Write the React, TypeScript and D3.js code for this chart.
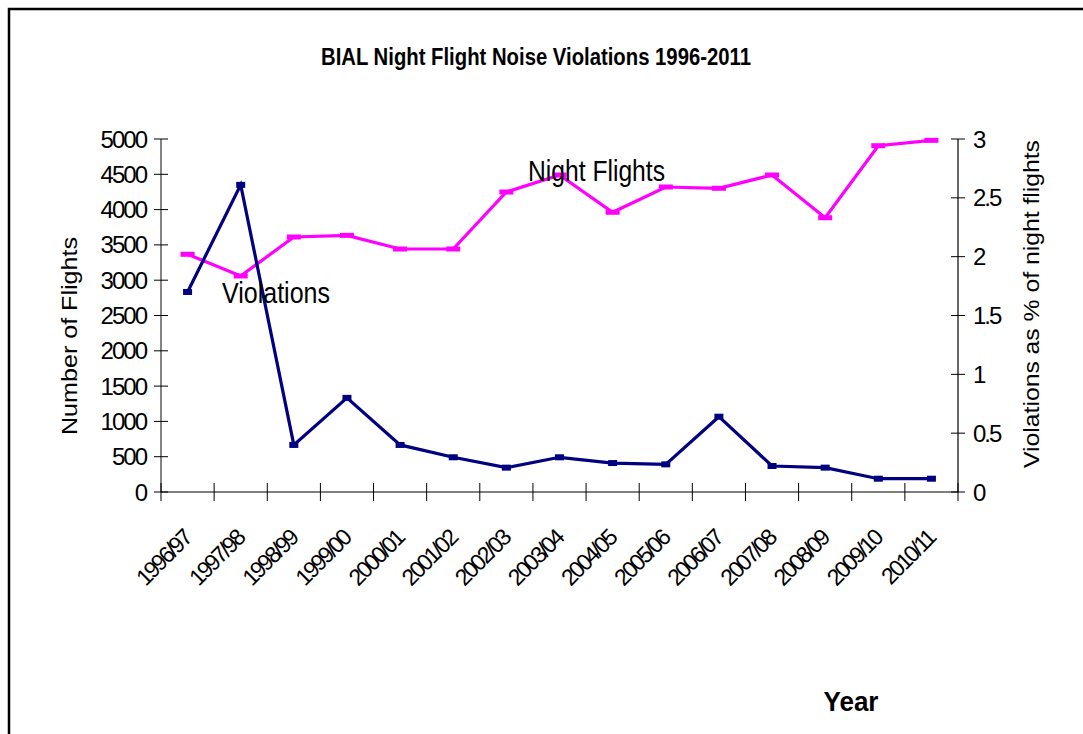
import React from "react";
import * as d3 from "d3";

// Financial years on the x axis
const years = [
  "1996/97", "1997/98", "1998/99", "1999/00", "2000/01", "2001/02", "2002/03", "2003/04",
  "2004/05", "2005/06", "2006/07", "2007/08", "2008/09", "2009/10", "2010/11",
];

// Number of night flights (left axis)
const nightFlights = [
  3367, 3060, 3612, 3635, 3442, 3442, 4249, 4490, 3962, 4320, 4302, 4490, 3885, 4905, 4981,
];

// Violations as % of night flights (right axis)
const violationsPct = [
  1.7, 2.61, 0.4, 0.8, 0.4, 0.295, 0.207, 0.295, 0.246, 0.235, 0.64, 0.221, 0.207, 0.113, 0.113,
];

const leftTicks = [0, 500, 1000, 1500, 2000, 2500, 3000, 3500, 4000, 4500, 5000];
const rightTicks = [0, 0.5, 1, 1.5, 2, 2.5, 3];

const FONT = "'Liberation Sans', Arial, sans-serif";

export default function App() {
  const x0 = 161;
  const x1 = 958;
  const yBottom = 492;
  const yTop = 139;

  const x = d3.scaleBand<string>().domain(years).range([x0, x1]).padding(0);
  const cx = (d: string) => (x(d) as number) + x.bandwidth() / 2;
  const yL = d3.scaleLinear().domain([0, 5000]).range([yBottom, yTop]);
  const yR = d3.scaleLinear().domain([0, 3]).range([yBottom, yTop]);

  const flightLine = d3
    .line<number>()
    .x((_, i) => cx(years[i]))
    .y((d) => yL(d));
  const violLine = d3
    .line<number>()
    .x((_, i) => cx(years[i]))
    .y((d) => yR(d));

  const tickEdges = years.map((d) => x(d) as number).concat([x1]);

  return (
    <svg
      width={1083}
      height={734}
      style={{ position: "absolute", left: 0, top: 0, background: "#fff" }}
      fontFamily={FONT}
    >
      {/* outer frame */}
      <rect x={9} y={9} width={1300} height={1000} fill="none" stroke="#000" strokeWidth={2.5} />

      {/* title */}
      <text x={536} y={65} textAnchor="middle" fontSize={23} fontWeight="bold" textLength={430} lengthAdjust="spacingAndGlyphs">
        BIAL Night Flight Noise Violations 1996-2011
      </text>

      {/* left axis */}
      <line x1={x0} x2={x0} y1={yTop} y2={yBottom} stroke="#333" strokeWidth={1.2} />
      {leftTicks.map((t) => (
        <g key={"l" + t}>
          <line x1={x0 - 7} x2={x0 + 7} y1={yL(t)} y2={yL(t)} stroke="#000" strokeWidth={1} />
          <text x={146} y={yL(t) + 8.5} textAnchor="end" fontSize={24} letterSpacing={-2}>
            {t}
          </text>
        </g>
      ))}

      {/* right axis */}
      <line x1={x1} x2={x1} y1={yTop} y2={yBottom} stroke="#000" strokeWidth={1.2} />
      {rightTicks.map((t) => (
        <g key={"r" + t}>
          <line x1={x1 - 7} x2={x1 + 7} y1={yR(t)} y2={yR(t)} stroke="#000" strokeWidth={1} />
          <text x={973} y={yR(t) + 8.5} textAnchor="start" fontSize={24} letterSpacing={-2}>
            {t}
          </text>
        </g>
      ))}

      {/* x axis */}
      <line x1={x0} x2={x1} y1={yBottom} y2={yBottom} stroke="#000" strokeWidth={1.2} />
      {tickEdges.map((tx, i) => (
        <line key={"xt" + i} x1={tx} x2={tx} y1={yBottom - 9} y2={yBottom + 9} stroke="#000" strokeWidth={1} />
      ))}
      {years.map((d) => (
        <text
          key={"xl" + d}
          transform={`translate(${cx(d) + 5},${540}) rotate(-45)`}
          textAnchor="end"
          fontSize={23}
          letterSpacing={-2.4}
        >
          {d}
        </text>
      ))}

      {/* axis titles */}
      <text transform="translate(77,336) rotate(-90)" textAnchor="middle" fontSize={22} textLength={198} lengthAdjust="spacingAndGlyphs">
        Number of Flights
      </text>
      <text transform="translate(1039,304) rotate(-90)" textAnchor="middle" fontSize={22} textLength={328} lengthAdjust="spacingAndGlyphs">
        Violations as % of night flights
      </text>
      <text x={851} y={711} textAnchor="middle" fontSize={27} fontWeight="bold" textLength={55} lengthAdjust="spacingAndGlyphs">
        Year
      </text>

      {/* night flights series */}
      <path d={flightLine(nightFlights) || ""} fill="none" stroke="#FF00FF" strokeWidth={3.2} />
      {nightFlights.map((v, i) => (
        <rect key={"nf" + i} x={cx(years[i]) - 7} y={yL(v) - 2.5} width={14} height={5} fill="#FF00FF" />
      ))}

      {/* violations series */}
      <path d={violLine(violationsPct) || ""} fill="none" stroke="#000080" strokeWidth={3.2} />
      {violationsPct.map((v, i) => (
        <rect key={"vp" + i} x={cx(years[i]) - 4.5} y={yR(v) - 3} width={9} height={6} fill="#000080" />
      ))}

      {/* series labels */}
      <text x={222} y={303} fontSize={30} textLength={108} lengthAdjust="spacingAndGlyphs">
        Violations
      </text>
      <text x={528} y={181} fontSize={30} textLength={137} lengthAdjust="spacingAndGlyphs">
        Night Flights
      </text>
    </svg>
  );
}
